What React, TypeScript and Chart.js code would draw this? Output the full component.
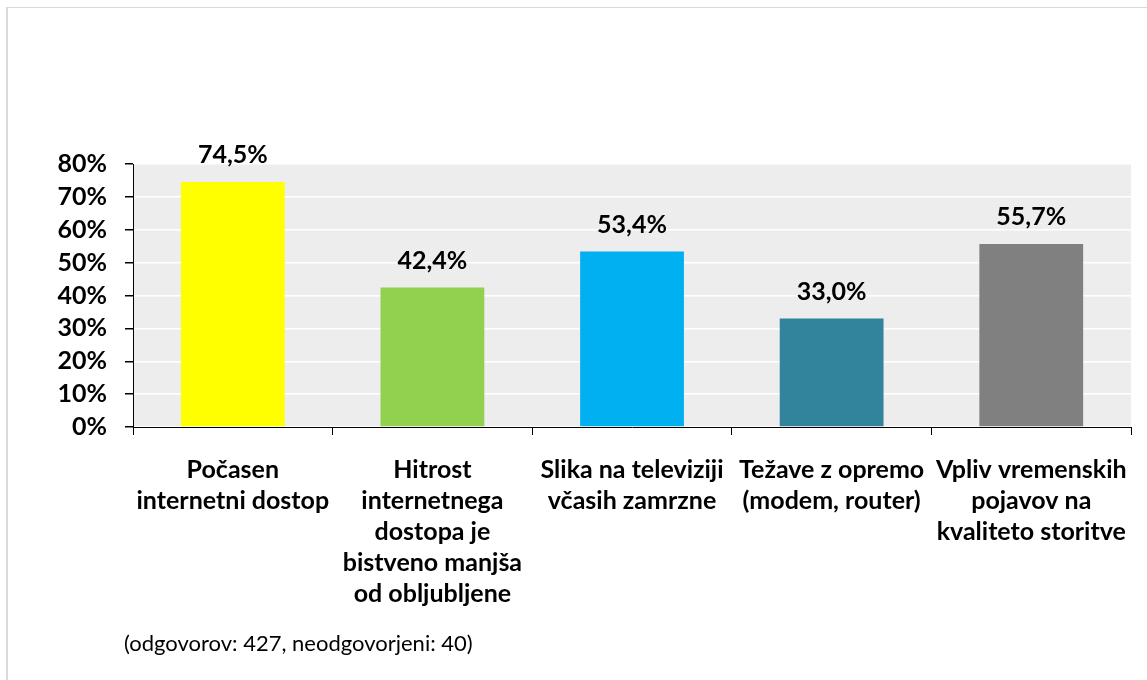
import React, { useEffect, useRef } from "react";
import { Chart, registerables } from "chart.js";

Chart.register(...registerables);

const categories: string[][] = [
  ["Počasen", "internetni dostop"],
  ["Hitrost", "internetnega", "dostopa je", "bistveno manjša", "od obljubljene"],
  ["Slika na televiziji", "včasih zamrzne"],
  ["Težave z opremo", "(modem, router)"],
  ["Vpliv vremenskih", "pojavov na", "kvaliteto storitve"],
];
const values: number[] = [74.5, 42.4, 53.4, 33.0, 55.7];
const barColors: string[] = ["#FFFF00", "#92D050", "#00B0F0", "#31849B", "#808080"];
const yTicks: number[] = [0, 10, 20, 30, 40, 50, 60, 70, 80];
const footerText = "(odgovorov: 427, neodgovorjeni: 40)";

const FONT = "Lato, 'Open Sans', sans-serif";

const bgPlugin = {
  id: "plotBg",
  beforeDraw(chart: any) {
    const { ctx, chartArea } = chart;
    ctx.save();
    ctx.fillStyle = "#EDEDED";
    ctx.fillRect(chartArea.left, chartArea.top, chartArea.right - chartArea.left, chartArea.bottom - chartArea.top);
    ctx.restore();
  },
};

const labelPlugin = {
  id: "valueLabels",
  afterDatasetsDraw(chart: any) {
    const { ctx } = chart;
    const meta = chart.getDatasetMeta(0);
    ctx.save();
    ctx.font = `bold 25px ${FONT}`;
    ctx.fillStyle = "#000000";
    ctx.textAlign = "center";
    ctx.textBaseline = "middle";
    meta.data.forEach((bar: any, i: number) => {
      const txt = values[i].toFixed(1).replace(".", ",") + "%";
      ctx.fillText(txt, bar.x, bar.y - 27);
    });
    ctx.restore();
  },
};

export default function App() {
  const ref = useRef<HTMLCanvasElement>(null);
  useEffect(() => {
    if (!ref.current) return;
    const chart = new Chart(ref.current, {
      type: "bar",
      data: {
        labels: categories,
        datasets: [
          {
            data: values,
            backgroundColor: barColors,
            borderWidth: 0,
            barPercentage: 0.52,
            categoryPercentage: 1,
          },
        ],
      },
      options: {
        animation: false,
        responsive: false,
        maintainAspectRatio: false,
        layout: { padding: { top: 164, right: 14, left: 0, bottom: 0 } },
        plugins: { legend: { display: false }, tooltip: { enabled: false }, title: { display: false } },
        scales: {
          x: {
            grid: {
              display: true,
              drawOnChartArea: false,
              drawTicks: true,
              tickLength: 8,
              tickColor: "#000000",
              offset: true,
            },
            border: { display: true, color: "#000000", width: 1 },
            ticks: {
              color: "#000000",
              font: { family: FONT, size: 25, weight: "bold", lineHeight: 1.24 },
              padding: 19,
              maxRotation: 0,
              autoSkip: false,
            },
            afterFit(axis: any) {
              axis.height = 253;
            },
          },
          y: {
            min: 0,
            max: 80,
            afterBuildTicks(axis: any) {
              axis.ticks = yTicks.map((v) => ({ value: v }));
            },
            grid: {
              color: "#FFFFFF",
              lineWidth: 1.5,
              drawTicks: true,
              tickLength: 8,
              tickColor: "#000000",
            },
            border: { display: true, color: "#000000", width: 1 },
            ticks: {
              color: "#000000",
              font: { family: FONT, size: 25, weight: "bold" },
              padding: 18,
              autoSkip: false,
              callback: (v: any) => v + "%",
            },
            afterFit(axis: any) {
              axis.width = 133;
            },
          },
        },
      },
      plugins: [bgPlugin, labelPlugin],
    });
    return () => chart.destroy();
  }, []);

  return (
    <div style={{ position: "fixed", left: 0, top: 0, width: 1147, height: 680, background: "#FFFFFF", overflow: "hidden" }}>
      <div
        style={{
          position: "absolute",
          left: 6,
          top: 7,
          width: 1160,
          height: 700,
          borderTop: "1px solid #D9D9D9",
          borderLeft: "2px solid #D9D9D9",
        }}
      />
      <canvas ref={ref} width={1147} height={680} style={{ position: "absolute", left: 0, top: 0 }} />
      <div
        style={{
          position: "absolute",
          left: 124,
          top: 629,
          fontFamily: FONT,
          fontSize: 22,
          lineHeight: "28px",
          color: "#000000",
          whiteSpace: "nowrap",
        }}
      >
        {footerText}
      </div>
    </div>
  );
}
